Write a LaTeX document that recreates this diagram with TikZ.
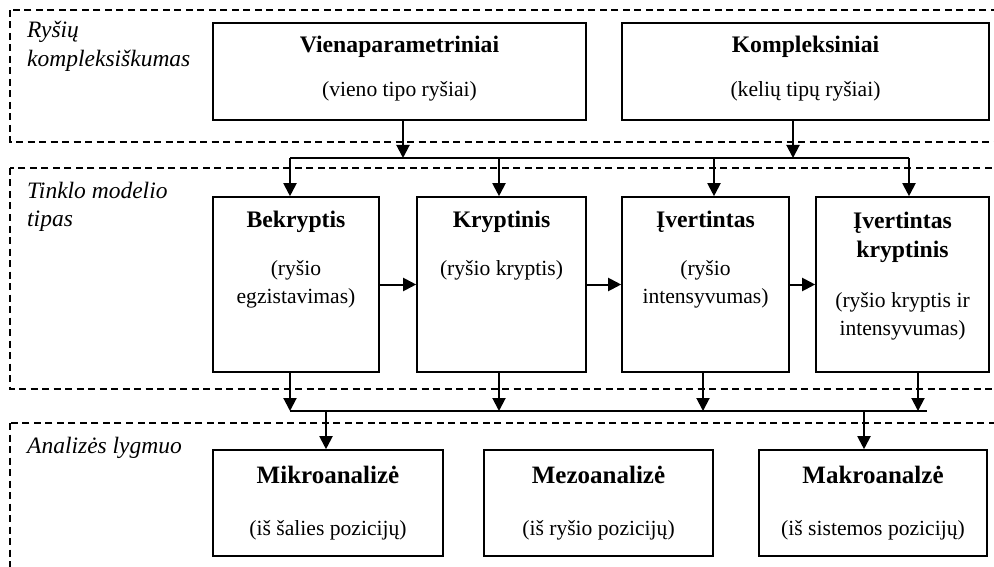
\documentclass[tikz,border=0pt]{standalone}
\usepackage{fontspec}
\setmainfont{Liberation Serif}
\usetikzlibrary{arrows.meta}
\begin{document}
\begin{tikzpicture}[x=1pt,y=-1pt,
  box/.style={draw, line width=1.6pt, inner sep=0pt},
  zone/.style={draw, line width=1.2pt, dash pattern=on 7pt off 4.5pt},
  arr/.style={line width=2pt, -{Triangle[length=13pt,width=13pt]}},
  bus/.style={line width=1.7pt},
  bt/.style={anchor=base, inner sep=0pt, font=\fontsize{23.7}{28}\selectfont\bfseries},
  bbt/.style={anchor=base, inner sep=0pt, font=\fontsize{25}{30}\selectfont\bfseries},
  nt/.style={anchor=base, inner sep=0pt, font=\fontsize{21.6}{26}\selectfont},
  it/.style={anchor=base west, inner sep=0pt, font=\fontsize{23.5}{28}\selectfont\itshape}]
\useasboundingbox (0,0) rectangle (994,567);
\clip (0,0) rectangle (994,567);

% zones
\draw[zone] (10,10) rectangle (1010,142);
\draw[zone] (10,168) rectangle (1010,389);
\draw[zone] (10,423) rectangle (1010,600);

\node[it] (z1a) at (27,38) {Ryšių};
\node[it] (z1b) at (27,67) {kompleksiškumas};
\node[it] (z2a) at (27,198) {Tinklo modelio};
\node[it] (z2b) at (27,226) {tipas};
\node[it] (z3a) at (27,453) {Analizės lygmuo};

% row 1
\node[box, minimum width=373pt, minimum height=97pt] (V) at (399.5,71.5) {};
\node[box, minimum width=367pt, minimum height=97pt] (K) at (805.5,71.5) {};
\node[bt] (tV1) at (399.5,53) {Vienaparametriniai};
\node[nt] (tV2) at (399.5,97) {(vieno tipo ryšiai)};
\node[bt] (tK1) at (805.5,53) {Kompleksiniai};
\node[nt] (tK2) at (805.5,97) {(kelių tipų ryšiai)};

% row 2
\node[box, minimum width=166pt, minimum height=175pt] (B) at (296,284.5) {};
\node[box, minimum width=169pt, minimum height=175pt] (Kr) at (501.5,284.5) {};
\node[box, minimum width=167pt, minimum height=175pt] (I) at (705.5,284.5) {};
\node[box, minimum width=173pt, minimum height=175pt] (IK) at (902.5,284.5) {};
\node[bt] (tB1) at (296,228) {Bekryptis};
\node[nt] (tB2) at (296,275) {(ryšio};
\node[nt] (tB3) at (296,303) {egzistavimas)};
\node[bt] (tKr1) at (501.5,228) {Kryptinis};
\node[nt] (tKr2) at (501.5,275) {(ryšio kryptis)};
\node[bt] (tI1) at (705.5,228) {Įvertintas};
\node[nt] (tI2) at (705.5,275) {(ryšio};
\node[nt] (tI3) at (705.5,303) {intensyvumas)};
\node[bt] (tIK1) at (902.5,229) {Įvertintas};
\node[bt] (tIK2) at (902.5,258) {kryptinis};
\node[nt] (tIK3) at (902.5,307) {(ryšio kryptis ir};
\node[nt] (tIK4) at (902.5,335) {intensyvumas)};

% row 3
\node[box, minimum width=230pt, minimum height=106pt] (Mi) at (328,503) {};
\node[box, minimum width=229pt, minimum height=106pt] (Me) at (598.5,503) {};
\node[box, minimum width=228pt, minimum height=106pt] (Ma) at (873,503) {};
\node[bbt] (tMi1) at (328,483) {Mikroanalizė};
\node[nt] (tMi2) at (328,535) {(iš šalies pozicijų)};
\node[bbt] (tMe1) at (598.5,483) {Mezoanalizė};
\node[nt] (tMe2) at (598.5,535) {(iš ryšio pozicijų)};
\node[bbt] (tMa1) at (873,483) {Makroanalzė};
\node[nt] (tMa2) at (873,535) {(iš sistemos pozicijų)};

% bus 1
\coordinate (v1) at (403,158);
\coordinate (k1) at (793,158);
\coordinate (b1a) at (290,158);
\coordinate (b1b) at (499,158);
\coordinate (b1c) at (714,158);
\coordinate (b1d) at (909,158);
\draw[arr] (v1 |- V.south) -- (v1);
\draw[arr] (k1 |- K.south) -- (k1);
\draw[bus] (b1a) -- (b1d);
\draw[arr] (b1a) -- (b1a |- B.north);
\draw[arr] (b1b) -- (b1b |- Kr.north);
\draw[arr] (b1c) -- (b1c |- I.north);
\draw[arr] (b1d) -- (b1d |- IK.north);

% horizontal arrows
\draw[arr] (B.east) -- (Kr.west);
\draw[arr] (Kr.east) -- (I.west);
\draw[arr] (I.east) -- (IK.west);

% bus 2
\coordinate (b2a) at (290,411);
\coordinate (b2b) at (499,411);
\coordinate (b2c) at (703,411);
\coordinate (b2d) at (918,411);
\coordinate (b2e) at (927,411);
\coordinate (m1) at (326,411);
\coordinate (m3) at (864,411);
\draw[arr] (b2a |- B.south) -- (b2a);
\draw[arr] (b2b |- Kr.south) -- (b2b);
\draw[arr] (b2c |- I.south) -- (b2c);
\draw[arr] (b2d |- IK.south) -- (b2d);
\draw[bus] (b2a) -- (b2e);
\draw[arr] (m1) -- (m1 |- Mi.north);
\draw[arr] (m3) -- (m3 |- Ma.north);
\end{tikzpicture}
\end{document}
